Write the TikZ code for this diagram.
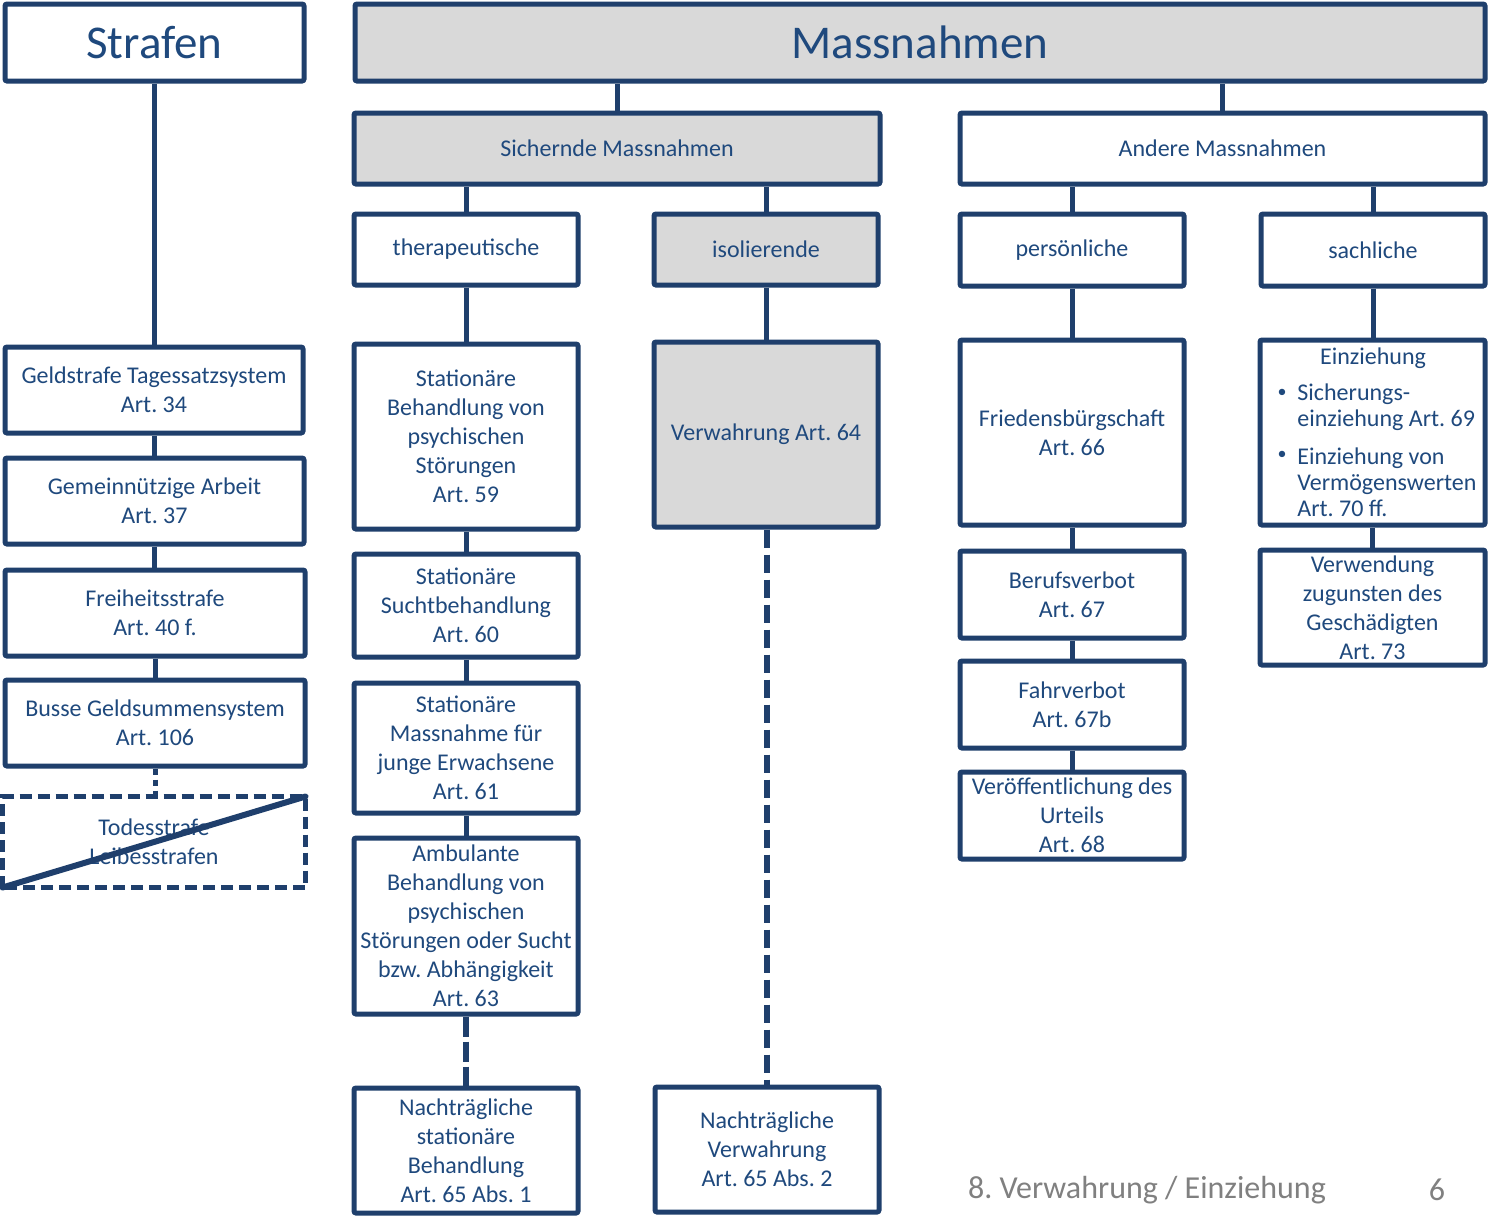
\documentclass[tikz,border=0pt]{standalone}
\usepackage{fontspec}
\setmainfont{Carlito}
\frenchspacing
\definecolor{inkblue}{HTML}{1F497D}
\definecolor{lineblue}{HTML}{1F3F6C}
\definecolor{panelgray}{HTML}{D9D9D9}
\definecolor{footgray}{HTML}{808080}
\tikzset{
  box/.style={draw=lineblue, line width=2.5pt, rounded corners=1pt, fill=white,
    text=inkblue, align=center, inner sep=0pt,
    font=\fontsize{12pt}{14.5pt}\selectfont},
  graybox/.style={fill=panelgray},
  titlebox/.style={font=\fontsize{23.5pt}{28pt}\selectfont},
  conn/.style={draw=lineblue, line width=2.5pt},
  dashconn/.style={draw=lineblue, line width=3pt, dash pattern=on 9pt off 3.5pt},
  dotconn/.style={draw=lineblue, line width=2.5pt, dash pattern=on 3pt off 2.5pt},
  crossed/.style={draw=lineblue, line width=2.2pt, dash pattern=on 6pt off 3pt},
  listtext/.style={text=inkblue, align=left, inner sep=0pt,
    font=\fontsize{12pt}{13pt}\selectfont},
  bullet/.style={text=inkblue, inner sep=0pt, font=\fontsize{9pt}{10pt}\selectfont},
  foot/.style={text=footgray, inner sep=0pt, font=\fontsize{16pt}{19pt}\selectfont}
}
% #1 options, #2 name, #3/#4 left/right, #5/#6 top/bottom, #7 text
\newcommand\chartbox[7][]{%
  \node[box,#1,minimum width={(#4-#3)*0.5pt},minimum height={(#6-#5)*0.5pt}]
    (#2) at ({(#3+#4)/2},{(#5+#6)/2}) {#7};}
\begin{document}
\begin{tikzpicture}[x=0.5pt,y=-0.5pt]
\useasboundingbox[fill=white] (0,0) rectangle (1489,1217);

% top level
\chartbox[titlebox]{strafen}{5}{304}{4}{81}{Strafen}
\chartbox[titlebox,graybox]{mass}{355}{1485}{4}{81}{Massnahmen}

% second level
\chartbox[graybox]{sich}{354}{880}{113}{184}{Sichernde Massnahmen}
\chartbox{andere}{960}{1485}{113}{184}{Andere Massnahmen}

% third level
\chartbox{thera}{354}{578}{214}{285}{therapeutische}
\chartbox[graybox]{iso}{654}{878}{214}{285}{isolierende}
\chartbox{pers}{960}{1184}{214}{286}{persönliche}
\chartbox{sach}{1261}{1485}{214}{286}{sachliche}

% penalties
\chartbox{geld}{5}{303}{347}{433}{Geldstrafe Tagessatzsystem\\Art. 34}
\chartbox{gemein}{5}{304}{458}{544}{Gemeinnützige Arbeit\\Art. 37}
\chartbox{frei}{5}{305}{570}{656}{Freiheitsstrafe\\Art. 40 f.}
\chartbox{busse}{5}{305}{680}{766}{Busse Geldsummensystem\\Art. 106}
\chartbox[draw=none]{todes}{5}{303}{799}{885}{Todesstrafe\\Leibesstrafen}
\draw[crossed] (todes.south west) rectangle (todes.north east);
\draw[draw=lineblue, line width=3pt, line cap=round] (todes.south west) -- (todes.north east);

% therapeutic measures
\chartbox{st59}{354}{578}{344}{529}{Stationäre\\Behandlung von\\psychischen\\Störungen\\Art. 59}
\chartbox{st60}{354}{578}{554}{657}{Stationäre\\Suchtbehandlung\\Art. 60}
\chartbox{st61}{354}{578}{683}{813}{Stationäre\\Massnahme für\\junge Erwachsene\\Art. 61}
\chartbox{amb}{354}{578}{838}{1014}{Ambulante\\Behandlung von\\psychischen\\Störungen oder Sucht\\bzw. Abhängigkeit\\Art. 63}
\chartbox{nst}{354}{578}{1088}{1213}{Nachträgliche\\stationäre\\Behandlung\\Art. 65 Abs. 1}

% isolating measures
\chartbox[graybox]{verw}{654}{878}{342}{527}{Verwahrung Art. 64}
\chartbox{nverw}{655}{879}{1087}{1212}{Nachträgliche\\Verwahrung\\Art. 65 Abs. 2}

% personal measures
\chartbox{fried}{960}{1184}{340}{525}{Friedensbürgschaft\\Art. 66}
\chartbox{beruf}{960}{1184}{551}{638}{Berufsverbot\\Art. 67}
\chartbox{fahr}{960}{1184}{661}{748}{Fahrverbot\\Art. 67b}
\chartbox{veroeff}{960}{1184}{772}{859}{Veröffentlichung des\\Urteils\\Art. 68}

% property-related measures
\chartbox{einz}{1260}{1485}{340}{525}{}
\node[listtext] (einzhead) at (1373,358) {Einziehung};
\node[bullet] (bulA) at (1282,393) {•};
\node[listtext, anchor=west] (itemA) at (1297,407) {Sicherungs-\\einziehung Art. 69};
\node[bullet] (bulB) at (1282,455) {•};
\node[listtext, anchor=west] (itemB) at (1297,482) {Einziehung von\\Vermögenswerten\\Art. 70 ff.};
\chartbox{verwend}{1260}{1485}{550}{665}{Verwendung\\zugunsten des\\Geschädigten\\Art. 73}

% connectors
\draw[conn] (strafen.south) -- (strafen.south |- geld.north);
\draw[conn] (sich.north) -- (sich.north |- mass.south);
\draw[conn] (andere.north) -- (andere.north |- mass.south);
\draw[conn] (thera.north) -- (thera.north |- sich.south);
\draw[conn] (iso.north) -- (iso.north |- sich.south);
\draw[conn] (pers.north) -- (pers.north |- andere.south);
\draw[conn] (sach.north) -- (sach.north |- andere.south);
\draw[conn] (thera.south) -- (thera.south |- st59.north);
\draw[conn] (iso.south) -- (iso.south |- verw.north);
\draw[conn] (pers.south) -- (pers.south |- fried.north);
\draw[conn] (sach.south) -- (sach.south |- einz.north);

\draw[conn] (geld.south) -- (geld.south |- gemein.north);
\draw[conn] (gemein.south) -- (gemein.south |- frei.north);
\draw[conn] (frei.south) -- (frei.south |- busse.north);
\draw[dotconn] (busse.south) -- (busse.south |- todes.north);

\draw[conn] (st59.south) -- (st60.north);
\draw[conn] (st60.south) -- (st61.north);
\draw[conn] (st61.south) -- (amb.north);
\draw[dashconn, dash pattern=on 10pt off 2.5pt] (amb.south) -- (nst.north);

\draw[dashconn] (verw.south -| nverw.north) -- (nverw.north);

\draw[conn] (fried.south) -- (beruf.north);
\draw[conn] (beruf.south) -- (fahr.north);
\draw[conn] (fahr.south) -- (veroeff.north);
\draw[conn] (einz.south) -- (einz.south |- verwend.north);

% footer
\node[foot] (foottitle) at (1147,1190) {8. Verwahrung / Einziehung};
\node[foot] (pagenum) at (1437,1190) {6};
\end{tikzpicture}
\end{document}
